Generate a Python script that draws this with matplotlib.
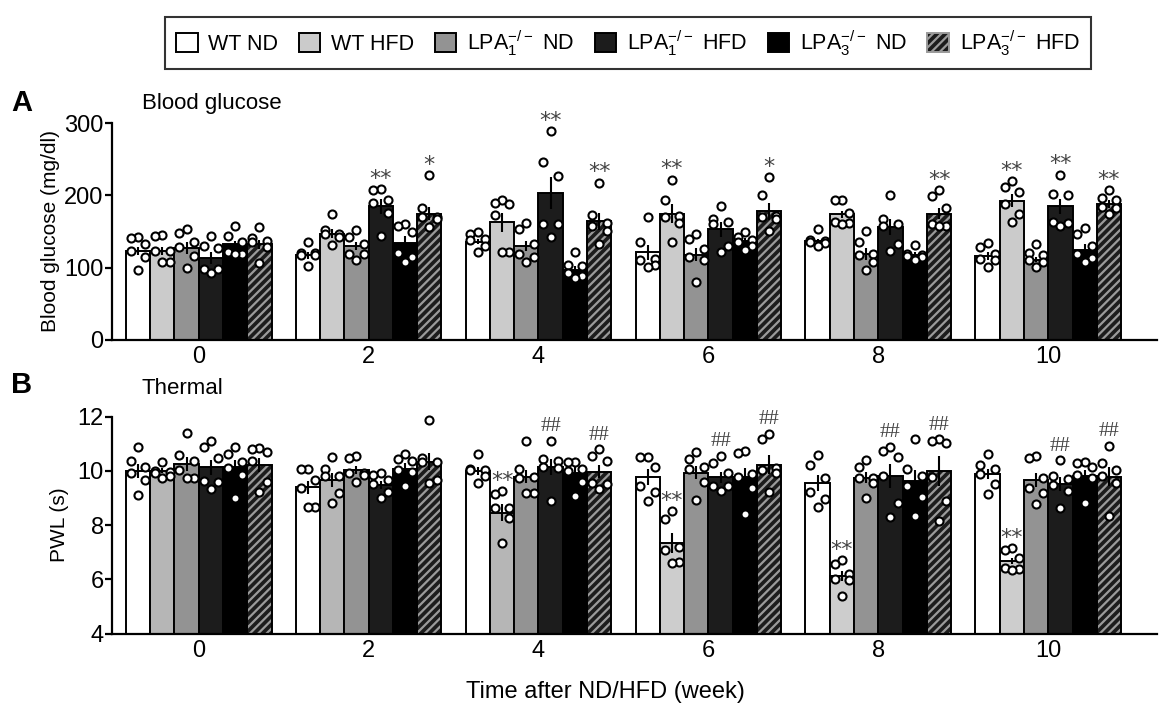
import numpy as np
import matplotlib.pyplot as plt
from matplotlib.patches import Patch

plt.rcParams['font.family'] = ['Liberation Sans', 'DejaVu Sans']
plt.rcParams['mathtext.fontset'] = 'custom'
plt.rcParams['mathtext.rm'] = 'Liberation Sans'
plt.rcParams['hatch.linewidth'] = 1.6

weeks = ['0', '2', '4', '6', '8', '10']
groups = ['WT ND', 'WT HFD',
          r'$\mathregular{LPA_1^{-/-}}$ ND', r'$\mathregular{LPA_1^{-/-}}$ HFD',
          r'$\mathregular{LPA_3^{-/-}}$ ND', r'$\mathregular{LPA_3^{-/-}}$ HFD']
colors = ['white', '#cbcbcb', '#939393', '#1c1c1c', '#000000', '#1c1c1c']

# blood glucose, mg/dl  (rows = groups, columns = weeks)
glucose_mean = [
    [123, 117, 136, 121, 137, 116],
    [123, 147, 163, 175, 174, 193],
    [127, 130, 130, 118, 119, 111],
    [113, 185, 203, 153, 156, 185],
    [132, 134, 97, 137, 118, 125],
    [132, 175, 164, 178, 175, 188],
]
glucose_sem = [
    [5, 5, 4, 10, 3, 5],
    [6, 6, 13, 13, 5, 9],
    [8, 6, 7, 9, 8, 4],
    [8, 10, 22, 10, 11, 10],
    [5, 10, 5, 4, 3, 8],
    [6, 9, 12, 12, 8, 6],
]
glucose_pts = [
    [[143, 133, 141, 123, 115, 97], [135, 120, 117, 120, 102, 117], [150, 146, 140, 138, 130, 122],
     [170, 135, 112, 110, 103, 101], [154, 138, 136, 137, 130, 134], [134, 128, 119, 112, 110, 101]],
    [[144, 145, 123, 123, 108, 108], [174, 147, 147, 152, 131, 143], [194, 188, 190, 173, 121, 121],
     [222, 194, 170, 171, 162, 136], [194, 194, 176, 163, 160, 162], [220, 212, 205, 188, 174, 163]],
    [[154, 148, 136, 129, 116, 99], [152, 143, 133, 119, 119, 111], [153, 162, 133, 119, 108, 115],
     [147, 140, 126, 115, 110, 80], [151, 136, 119, 117, 107, 96], [132, 120, 117, 110, 108, 101]],
    [[144, 130, 127, 98, 93, 98], [209, 207, 190, 194, 176, 144], [289, 247, 227, 161, 160, 142],
     [186, 163, 161, 167, 122, 130], [201, 167, 160, 157, 133, 123], [229, 202, 200, 163, 157, 162]],
    [[157, 144, 136, 119, 119, 122], [160, 149, 158, 120, 108, 115], [121, 103, 102, 85, 92, 88],
     [150, 143, 136, 125, 138, 130], [131, 119, 115, 116, 110, 118], [155, 146, 130, 119, 113, 107]],
    [[156, 141, 137, 135, 128, 106], [228, 182, 170, 167, 170, 156], [218, 173, 157, 162, 151, 132],
     [226, 201, 170, 172, 167, 151], [207, 199, 182, 160, 157, 157], [208, 196, 194, 184, 182, 174]],
]

# thermal paw withdrawal latency, s
pwl_mean = [
    [10.0, 9.39, 10.0, 9.76, 9.54, 9.88],
    [10.0, 9.66, 8.46, 7.35, 6.12, 6.68],
    [10.24, 10.03, 9.78, 9.93, 9.75, 9.66],
    [10.12, 9.48, 10.13, 9.76, 9.81, 9.51],
    [10.12, 10.08, 9.93, 9.76, 9.62, 9.82],
    [10.22, 10.34, 9.97, 10.22, 10.0, 9.78],
]
pwl_sem = [
    [0.25, 0.25, 0.15, 0.3, 0.3, 0.2],
    [0.1, 0.25, 0.3, 0.37, 0.2, 0.12],
    [0.25, 0.15, 0.25, 0.25, 0.2, 0.25],
    [0.27, 0.15, 0.3, 0.2, 0.45, 0.25],
    [0.27, 0.2, 0.25, 0.35, 0.4, 0.2],
    [0.25, 0.3, 0.25, 0.35, 0.55, 0.35],
]
pwl_pts = [
    [[10.86, 10.36, 10.15, 9.91, 9.66, 9.11], [10.06, 10.06, 9.66, 9.35, 8.68, 8.68],
     [10.61, 10.03, 10.03, 10.06, 9.81, 9.54], [10.49, 10.49, 10.15, 9.42, 9.2, 8.9],
     [10.58, 10.22, 9.72, 9.23, 8.95, 8.68], [10.61, 10.22, 10.06, 9.88, 9.51, 9.14]],
    [[10.34, 9.97, 9.9, 10.0, 9.72, 9.81], [10.49, 10.07, 9.81, 9.81, 9.17, 8.82],
     [9.26, 9.13, 8.62, 8.62, 8.27, 7.32], [8.52, 8.22, 7.2, 7.08, 6.61, 6.65],
     [6.71, 6.55, 6.0, 5.97, 6.19, 5.38], [7.14, 7.08, 6.8, 6.36, 6.4, 6.35]],
    [[11.38, 10.58, 10.36, 10.03, 9.72, 9.75], [10.55, 10.46, 9.9, 9.85, 9.9, 9.6],
     [11.08, 10.06, 9.76, 9.72, 9.17, 9.17], [10.68, 10.42, 10.15, 10.06, 9.6, 8.92],
     [10.4, 10.15, 9.75, 9.56, 9.75, 8.98], [10.55, 10.46, 9.72, 9.35, 9.19, 8.78]],
    [[11.1, 10.86, 10.46, 9.62, 9.32, 9.6], [9.9, 9.85, 9.66, 9.5, 9.2, 8.98],
     [11.11, 10.42, 10.36, 10.15, 10.1, 8.89], [10.3, 10.55, 9.93, 9.44, 9.26, 9.44],
     [10.73, 10.5, 10.87, 9.81, 8.82, 8.31], [10.38, 9.69, 9.81, 9.48, 9.27, 8.62]],
    [[10.87, 10.6, 10.34, 10.1, 9.85, 8.98], [10.42, 10.36, 10.6, 10.03, 9.95, 9.44],
     [10.34, 10.34, 10.06, 10.0, 9.6, 9.08], [10.73, 10.65, 9.78, 9.87, 9.35, 8.4],
     [11.16, 10.06, 9.81, 9.42, 9.05, 8.33], [10.34, 10.13, 10.28, 9.85, 9.75, 8.82]],
    [[10.8, 10.7, 10.83, 10.36, 9.6, 9.23], [11.88, 10.31, 10.34, 10.46, 9.54, 9.66],
     [10.79, 10.55, 10.36, 9.54, 9.5, 9.32], [11.16, 11.35, 9.9, 10.1, 10.03, 9.2],
     [11.11, 11.02, 11.16, 9.76, 8.9, 8.16], [10.92, 10.03, 10.28, 9.81, 9.56, 8.34]],
]

# significance marks: (week index, group index, label)
glucose_sig = [(1, 3, '**'), (1, 5, '*'), (2, 3, '**'), (2, 5, '**'), (3, 1, '**'),
               (3, 5, '*'), (4, 5, '**'), (5, 1, '**'), (5, 3, '**'), (5, 5, '**')]
pwl_sig = [(2, 1, '**'), (3, 1, '**'), (4, 1, '**'), (5, 1, '**'),
           (2, 3, '##'), (2, 5, '##'), (3, 3, '##'), (3, 5, '##'),
           (4, 3, '##'), (4, 5, '##'), (5, 3, '##'), (5, 5, '##')]

w = 0.143
jit = np.array([0.0, -0.3, 0.3, -0.3, 0.3, 0.0]) * w


def draw_panel(ax, mean, sem, pts, sig, bar_colors):
    x0 = np.arange(len(weeks))
    for j in range(len(groups)):
        x = x0 + (j - 2.5) * w
        if j == 5:
            ax.bar(x, mean[j], w, color=bar_colors[j], edgecolor='#9a9a9a', hatch='////',
                   linewidth=0, zorder=1)
            ax.bar(x, mean[j], w, fill=False, edgecolor='black', linewidth=1.4, zorder=2)
        else:
            ax.bar(x, mean[j], w, color=bar_colors[j], edgecolor='black', linewidth=1.4, zorder=1)
        ax.errorbar(x, mean[j], yerr=sem[j], fmt='none', ecolor='black',
                    elinewidth=1.5, capsize=0, zorder=3)
        for i in range(len(weeks)):
            v = np.sort(pts[j][i])[::-1]
            ax.plot(x[i] + jit, v, 'o', ms=5.8, mfc='white', mec='black', mew=1.5,
                    zorder=4, clip_on=False)
    for i, j, lab in sig:
        top = max(pts[j][i])
        if lab == '##':
            ax.annotate(lab, (i + (j - 2.5) * w, top), xytext=(0, 7), textcoords='offset points',
                        ha='center', va='baseline', fontsize=15, color='#444444',
                        family='Liberation Serif', annotation_clip=False)
        else:
            ax.annotate(lab, (i + (j - 2.5) * w, top), xytext=(0, 3), textcoords='offset points',
                        ha='center', va='baseline', fontsize=16, color='#444444',
                        family='DejaVu Sans', annotation_clip=False)
    ax.set_xticks(x0)
    ax.set_xticklabels(weeks)
    ax.set_xlim(-0.51, 5.64)
    for s in ['top', 'right']:
        ax.spines[s].set_visible(False)
    for s in ['left', 'bottom']:
        ax.spines[s].set_linewidth(1.6)
    ax.tick_params(axis='x', length=0, labelsize=17, pad=5)
    ax.tick_params(axis='y', length=5, width=1.6, labelsize=17, pad=1)


fig = plt.figure(figsize=(11.59, 7.07), dpi=100)
axA = fig.add_axes([112 / 1159, 1 - 339.5 / 707, 1045 / 1159, 216 / 707])
axB = fig.add_axes([112 / 1159, 1 - 633.5 / 707, 1045 / 1159, 217 / 707])

draw_panel(axA, glucose_mean, glucose_sem, glucose_pts, glucose_sig, colors)
axA.set_ylim(0, 300)
axA.set_yticks([0, 100, 200, 300])
axA.set_ylabel('Blood glucose (mg/dl)', fontsize=15, labelpad=3)

# in panel B the WT HFD bars of weeks 0-4 are printed a shade darker
colors_b = list(colors)
colors_b[1] = ['#b6b6b6', '#b6b6b6', '#b6b6b6', '#cdcdcd', '#cdcdcd', '#cdcdcd']
draw_panel(axB, pwl_mean, pwl_sem, pwl_pts, pwl_sig, colors_b)
axB.set_ylim(4, 12)
axB.set_yticks([4, 6, 8, 10, 12])
axB.set_ylabel('PWL (s)', fontsize=15, labelpad=6)

fig.text(142 / 1159, 1 - 104 / 707, 'Blood glucose', fontsize=16, va='center')
fig.text(142 / 1159, 1 - 388 / 707, 'Thermal', fontsize=16, va='center')
fig.text(11 / 1159, 1 - 103 / 707, 'A', fontsize=21, fontweight='bold', va='center')
fig.text(11 / 1159, 1 - 385 / 707, 'B', fontsize=21, fontweight='bold', va='center')
fig.text(605 / 1159, 1 - 692 / 707, 'Time after ND/HFD (week)', fontsize=17,
         ha='center', va='center')

handles = []
for j in range(len(groups)):
    if j == 5:
        handles.append(Patch(facecolor=colors[j], edgecolor='#9a9a9a', hatch='////', linewidth=1.4))
    else:
        handles.append(Patch(facecolor=colors[j], edgecolor='black', linewidth=1.4))
leg = fig.legend(handles, groups, loc='center', bbox_to_anchor=(628 / 1159, 1 - 43 / 707),
                 ncol=6, fontsize=15.5, frameon=True, fancybox=False, edgecolor='black',
                 handlelength=1.0, handleheight=1.0, handletextpad=0.5, columnspacing=0.95,
                 borderpad=0.5)
leg.get_frame().set_linewidth(1.5)

fig.savefig('out.png', dpi=100)
